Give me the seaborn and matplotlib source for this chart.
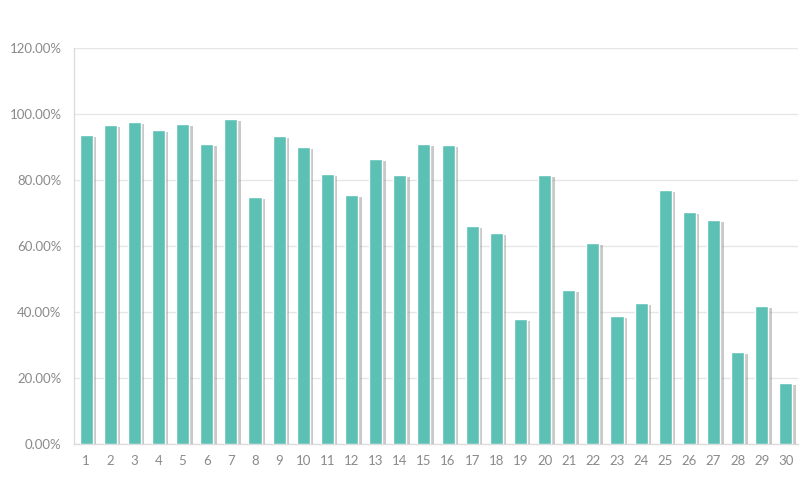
import matplotlib
matplotlib.use("Agg")
import matplotlib.pyplot as plt
import matplotlib.patheffects as pe
from matplotlib.ticker import FuncFormatter, MultipleLocator
import seaborn as sns
import pandas as pd

categories = [str(i) for i in range(1, 31)]
values = [93.6, 96.7, 97.6, 95.2, 97.0, 90.9, 98.5, 74.8, 93.3, 90.0,
          81.8, 75.5, 86.4, 81.5, 90.9, 90.6, 66.1, 63.9, 37.9, 81.5,
          46.7, 60.9, 38.8, 42.7, 77.0, 70.3, 67.9, 27.9, 41.8, 18.5]

df = pd.DataFrame({"day": categories, "rate": values})

sns.set_theme(style="white")
plt.rcParams["font.family"] = ["Lato", "DejaVu Sans"]

fig = plt.figure(figsize=(8.11, 4.92), dpi=100)
ax = fig.add_axes([74/811, 48/492, (798-74)/811, (444-48)/492])

sns.barplot(data=df, x="day", y="rate", color="#5cc0b5", saturation=1,
            width=0.54, ax=ax, zorder=3)
for p in ax.patches:
    p.set_path_effects([pe.SimplePatchShadow(offset=(2.5, -1.5), shadow_rgbFace="#888888", alpha=0.45),
                        pe.Normal()])

ax.set_ylim(0, 120)
ax.set_xlim(-0.5, len(categories) - 0.5)
ax.yaxis.set_major_locator(MultipleLocator(20))
ax.yaxis.set_major_formatter(FuncFormatter(lambda v, _: f"{v:.2f}%"))
ax.grid(axis="y", color="#e6e6e6", linewidth=1, zorder=0)
ax.set_axisbelow(True)
ax.set_xlabel("")
ax.set_ylabel("")
for s in ["top", "right"]:
    ax.spines[s].set_visible(False)
for s in ["left", "bottom"]:
    ax.spines[s].set_color("#dcdcdc")
    ax.spines[s].set_linewidth(1)
ax.tick_params(axis="both", length=0, colors="#8a8a8a", labelsize=9.5)
ax.tick_params(axis="y", pad=9)
ax.tick_params(axis="x", pad=8)

fig.savefig("out.png", dpi=100, facecolor="white")
